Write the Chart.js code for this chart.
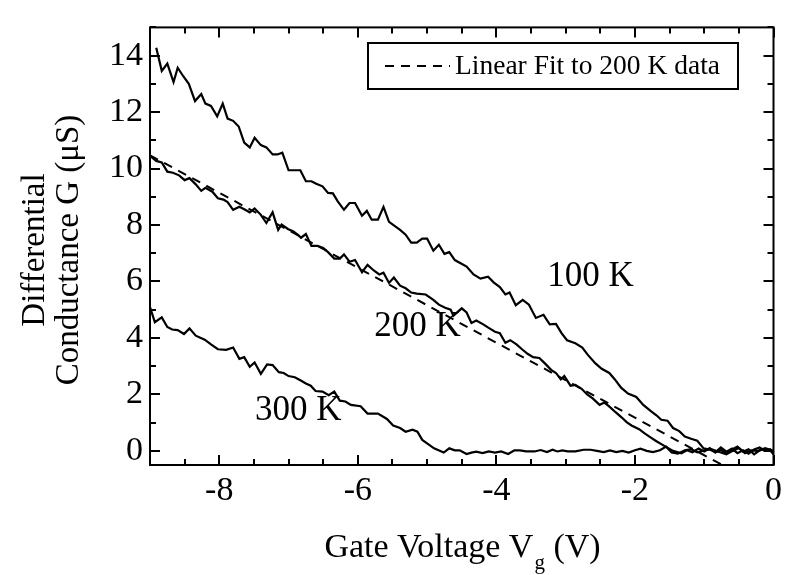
<!DOCTYPE html>
<html>
<head>
<meta charset="utf-8">
<script src="https://cdn.jsdelivr.net/npm/chart.js@4.4.1/dist/chart.umd.min.js"></script>
<style>
  body { margin: 0; background: #fff; }
  #wrap { width: 788px; height: 575px; }
</style>
</head>
<body>
<div id="wrap"><canvas id="gChart" width="788" height="575"></canvas></div>
<script>
// gate voltage (V) and conductance (uS)
const v100 = [-8.91,-8.83,-8.75,-8.66,-8.60,-8.52,-8.44,-8.35,-8.26,-8.20,-8.12,-8.03,-7.95,-7.88,-7.80,-7.72,-7.64,-7.56,-7.49,-7.40,-7.32,-7.23,-7.16,-7.09,-7.00,-6.83,-6.75,-6.67,-6.60,-6.51,-6.43,-6.36,-6.29,-6.20,-6.12,-6.04,-5.94,-5.87,-5.80,-5.71,-5.63,-5.55,-5.47,-5.39,-5.31,-5.23,-5.15,-5.07,-5.00,-4.91,-4.83,-4.75,-4.68,-4.60,-4.51,-4.43,-4.33,-4.23,-4.12,-4.04,-3.95,-3.87,-3.81,-3.72,-3.62,-3.53,-3.43,-3.32,-3.23,-3.14,-3.06,-2.98,-2.86,-2.76,-2.68,-2.57,-2.48,-2.37,-2.29,-2.20,-2.10,-1.98,-1.88,-1.77,-1.69,-1.62,-1.53,-1.45,-1.36,-1.28,-1.19,-1.10,-1.01,-0.92,-0.84,-0.76,-0.68,-0.60,-0.52,-0.44,-0.36,-0.28,-0.20,-0.12,-0.05,0];
const g100 = [14.28,13.46,13.72,13.06,13.57,13.27,13.00,12.39,12.64,12.30,12.22,11.85,12.30,11.77,11.69,11.49,10.92,10.75,11.09,10.83,10.75,10.50,10.50,10.56,9.94,9.94,9.55,9.55,9.46,9.37,9.14,9.12,8.84,8.54,8.78,8.78,8.33,8.50,8.19,8.19,8.64,8.11,7.97,7.83,7.66,7.38,7.38,7.52,7.52,7.09,7.30,6.98,7.04,6.76,6.64,6.53,6.25,6.10,6.17,5.97,5.80,5.54,5.61,5.16,5.35,5.18,4.71,4.82,4.48,4.50,4.17,3.92,3.81,3.66,3.40,3.10,2.91,2.76,2.53,2.24,2.03,1.91,1.63,1.41,1.26,1.10,1.07,0.81,0.70,0.51,0.43,0.36,0.09,0.05,-0.05,0.12,-0.03,0.08,-0.08,0.02,-0.10,0.05,0.12,0.00,0.06,-0.02];

const v200 = [-9.00,-8.91,-8.83,-8.75,-8.67,-8.58,-8.50,-8.43,-8.34,-8.26,-8.20,-8.10,-8.02,-7.94,-7.88,-7.80,-7.71,-7.64,-7.56,-7.49,-7.40,-7.32,-7.23,-7.15,-7.10,-7.01,-6.93,-6.86,-6.82,-6.75,-6.67,-6.58,-6.50,-6.43,-6.34,-6.26,-6.20,-6.12,-6.04,-5.94,-5.86,-5.77,-5.69,-5.63,-5.55,-5.48,-5.39,-5.31,-5.23,-5.15,-5.02,-4.91,-4.83,-4.74,-4.66,-4.62,-4.50,-4.43,-4.36,-4.29,-4.19,-4.10,-4.02,-3.95,-3.87,-3.80,-3.71,-3.63,-3.55,-3.47,-3.38,-3.30,-3.21,-3.14,-3.07,-3.02,-2.93,-2.86,-2.77,-2.69,-2.61,-2.51,-2.44,-2.36,-2.28,-2.19,-2.12,-2.05,-1.94,-1.86,-1.77,-1.69,-1.57,-1.45,-1.33,-1.25,-1.17,-1.08,-1.00,-0.92,-0.84,-0.76,-0.68,-0.60,-0.52,-0.44,-0.36,-0.28,-0.20,-0.12,-0.04,0];
const g200 = [10.45,10.27,10.22,9.89,9.85,9.76,9.59,9.66,9.44,9.21,9.32,9.18,8.95,8.90,8.81,8.54,8.65,8.56,8.45,8.59,8.36,8.07,8.45,7.83,8.02,7.86,7.77,7.64,7.55,7.68,7.26,7.26,7.19,7.04,6.81,6.81,6.96,6.70,6.76,6.33,6.59,6.39,6.25,6.31,5.95,6.14,5.85,5.76,5.61,5.57,5.54,5.35,5.18,5.07,5.00,4.79,5.05,4.90,4.53,4.62,4.48,4.34,4.22,4.17,3.83,3.92,3.77,3.60,3.44,3.32,3.29,3.10,2.87,2.76,2.53,2.65,2.31,2.34,2.20,2.00,1.86,1.63,1.71,1.55,1.37,1.18,1.02,0.90,0.77,0.62,0.47,0.34,0.17,0.00,-0.09,0.02,-0.05,0.08,-0.02,0.10,-0.06,0.03,-0.08,0.05,0.15,-0.03,0.06,-0.12,0.02,0.10,0.03,-0.03];

const v300 = [-9.00,-8.93,-8.83,-8.75,-8.68,-8.60,-8.51,-8.43,-8.34,-8.21,-8.12,-8.02,-7.90,-7.80,-7.71,-7.64,-7.56,-7.49,-7.40,-7.31,-7.23,-7.14,-7.07,-7.00,-6.91,-6.83,-6.75,-6.68,-6.61,-6.51,-6.42,-6.34,-6.26,-6.18,-6.10,-5.96,-5.86,-5.71,-5.58,-5.49,-5.39,-5.31,-5.21,-5.14,-5.07,-4.99,-4.90,-4.76,-4.68,-4.60,-4.53,-4.43,-4.36,-4.29,-4.20,-4.11,-4.02,-3.93,-3.83,-3.74,-3.66,-3.57,-3.45,-3.36,-3.27,-3.19,-3.12,-3.05,-2.97,-2.86,-2.74,-2.64,-2.55,-2.45,-2.36,-2.27,-2.18,-2.09,-2.00,-1.92,-1.83,-1.74,-1.64,-1.55,-1.47,-1.38,-1.28,-1.19,-1.10,-1.00,-0.90,-0.77,-0.68,-0.59,-0.50,-0.41,-0.32,-0.23,-0.14,-0.05,0];
const g300 = [5.09,4.56,4.73,4.39,4.30,4.28,4.14,4.34,4.08,3.94,3.77,3.60,3.58,3.66,3.26,3.32,2.98,3.13,2.73,3.06,3.04,2.79,2.76,2.65,2.61,2.50,2.39,2.31,2.12,2.10,1.97,2.10,1.78,1.75,1.63,1.58,1.32,1.32,1.13,0.90,0.81,0.68,0.75,0.68,0.39,0.25,0.09,-0.06,0.09,0.02,0.02,-0.11,-0.06,-0.03,-0.08,-0.02,-0.06,-0.02,-0.11,0.02,0.02,-0.02,-0.02,0.03,-0.04,0.04,-0.02,0.02,-0.02,-0.02,0.04,0.04,0.00,-0.04,0.02,-0.04,0.00,-0.06,0.02,0.08,0.00,-0.04,0.02,0.15,-0.06,-0.10,0.02,0.06,-0.05,0.02,0.06,-0.05,-0.12,0.00,0.10,-0.08,0.02,0.00,0.05,0.02,-0.12];

// linear fit to the 200 K data (end points of the dashed line)
const fitV = [-9, 0];
const fitG = [10.47, -1.48];

const xTicks = [-8, -6, -4, -2, 0];
const yTicks = [0, 2, 4, 6, 8, 10, 12, 14];

const curveLabels = ["100 K", "200 K", "300 K"];
const labelV = [-2.64, -5.14, -6.86];
const labelG = [6.15, 4.39, 1.42];

const legendText = "Linear Fit to 200 K data";
const serif = '"Liberation Serif", "Times New Roman", serif';

function pts(xs, ys) {
  return xs.map((x, i) => ({ x: x, y: ys[i] }));
}

const frameTicks = {
  id: 'frameTicks',
  afterDatasetsDraw(chart) {
    const ctx = chart.ctx;
    const a = chart.chartArea;
    const xs = chart.scales.x, ys = chart.scales.y;
    ctx.save();
    ctx.strokeStyle = '#000';
    ctx.lineWidth = 2;
    ctx.strokeRect(a.left, a.top, a.right - a.left, a.bottom - a.top);
    ctx.beginPath();
    for (let v = -9; v <= 0.001; v += 0.5) {
      const px = Math.round(xs.getPixelForValue(v));
      const len = xTicks.includes(v) ? 10 : 6;
      ctx.moveTo(px, a.bottom); ctx.lineTo(px, a.bottom - len);
      ctx.moveTo(px, a.top); ctx.lineTo(px, a.top + len);
    }
    for (let v = 0; v <= 15; v += 1) {
      const py = Math.round(ys.getPixelForValue(v));
      const len = yTicks.includes(v) ? 10 : 6;
      ctx.moveTo(a.left, py); ctx.lineTo(a.left + len, py);
      ctx.moveTo(a.right, py); ctx.lineTo(a.right - len, py);
    }
    ctx.stroke();
    ctx.restore();
  }
};

const texts = {
  id: 'texts',
  afterDraw(chart) {
    const ctx = chart.ctx;
    const xs = chart.scales.x, ys = chart.scales.y;
    ctx.save();
    ctx.fillStyle = '#000';
    ctx.strokeStyle = '#000';

    // curve labels
    ctx.font = '35px ' + serif;
    ctx.textAlign = 'center';
    ctx.textBaseline = 'middle';
    curveLabels.forEach((t, i) => {
      ctx.fillText(t, xs.getPixelForValue(labelV[i]), ys.getPixelForValue(labelG[i]));
    });

    // legend box
    ctx.lineWidth = 2;
    ctx.strokeRect(368, 43, 370, 46);
    ctx.setLineDash([9, 7]);
    ctx.beginPath();
    ctx.moveTo(385, 66); ctx.lineTo(450, 66);
    ctx.stroke();
    ctx.setLineDash([]);
    ctx.font = '27.5px ' + serif;
    ctx.textAlign = 'left';
    ctx.fillText(legendText, 455, 67);

    // x title with subscript
    ctx.textBaseline = 'alphabetic';
    ctx.font = '34px ' + serif;
    const p1 = 'Gate Voltage V', p3 = ' (V)';
    const w1 = ctx.measureText(p1).width;
    const w3 = ctx.measureText(p3).width;
    ctx.font = '21px ' + serif;
    const w2 = ctx.measureText('g').width;
    let x0 = 462 - (w1 + w2 + w3) / 2;
    ctx.font = '34px ' + serif;
    ctx.fillText(p1, x0, 557);
    ctx.font = '21px ' + serif;
    ctx.fillText('g', x0 + w1 + 1, 569);
    ctx.font = '34px ' + serif;
    ctx.fillText(p3, x0 + w1 + w2 + 1, 557);

    // y title, two lines
    ctx.translate(0, 250);
    ctx.rotate(-Math.PI / 2);
    ctx.textAlign = 'center';
    ctx.font = '33px ' + serif;
    ctx.fillText('Differential', 0, 44);
    ctx.fillText('Conductance G (\u03bcS)', 0, 78);
    ctx.restore();
  }
};

const lineStyle = { borderColor: '#000', borderWidth: 2.2, pointRadius: 0, tension: 0, fill: false };

new Chart(document.getElementById('gChart').getContext('2d'), {
  type: 'line',
  data: {
    datasets: [
      Object.assign({ label: '100 K', data: pts(v100, g100) }, lineStyle),
      Object.assign({ label: '200 K', data: pts(v200, g200) }, lineStyle),
      Object.assign({ label: '300 K', data: pts(v300, g300) }, lineStyle),
      Object.assign({ label: legendText, data: pts(fitV, fitG) }, lineStyle, { borderWidth: 2, borderDash: [9, 7] })
    ]
  },
  options: {
    responsive: false,
    animation: false,
    devicePixelRatio: 1,
    layout: { padding: { top: 5, right: 8, left: 0, bottom: 0 } },
    plugins: { legend: { display: false }, tooltip: { enabled: false } },
    scales: {
      x: {
        type: 'linear', min: -9, max: 0,
        afterBuildTicks: s => { s.ticks = xTicks.map(v => ({ value: v })); },
        afterFit: s => { s.height = 110; },
        grid: { display: false, drawTicks: false },
        border: { display: false },
        ticks: { color: '#000', font: { family: serif, size: 34 }, padding: 6, maxRotation: 0, autoSkip: false }
      },
      y: {
        type: 'linear', min: -0.5, max: 15,
        afterBuildTicks: s => { s.ticks = yTicks.map(v => ({ value: v })); },
        afterFit: s => { s.width = 150; },
        grid: { display: false, drawTicks: false },
        border: { display: false },
        ticks: { color: '#000', font: { family: serif, size: 34 }, padding: 7, autoSkip: false }
      }
    }
  },
  plugins: [frameTicks, texts]
});
</script>
</body>
</html>
